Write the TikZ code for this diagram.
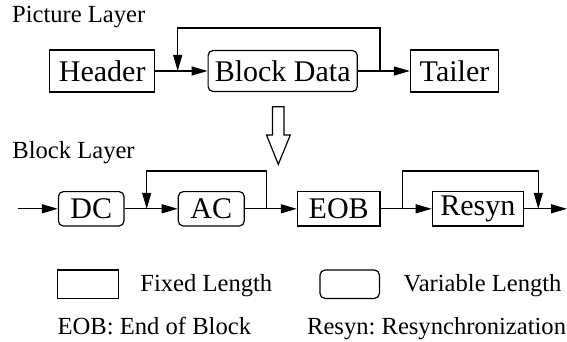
\documentclass[tikz,border=0pt]{standalone}
\usepackage{fontspec}
\setmainfont{Liberation Serif}
\usetikzlibrary{arrows.meta}
\frenchspacing
\tikzset{
  fixedbox/.style={draw, line width=0.6pt, inner sep=0pt, font=\fontsize{15}{18}\selectfont, minimum height=#1},
  fixedbox/.default=21pt,
  varbox/.style={fixedbox=#1, rounded corners=2.5pt},
  varbox/.default=21pt,
  lbl/.style={inner sep=0pt, anchor=base west, font=\fontsize{12.3}{15}\selectfont},
  arr/.style={line width=0.6pt, -{Triangle[length=8pt,width=4.5pt]}},
}
\begin{document}
\begin{tikzpicture}[x=0.5pt,y=-0.5pt]
\useasboundingbox (0,0) rectangle (567,342);
% Picture layer
\node[lbl] (pl) at (11.7,23) {Picture Layer};
\node[fixedbox, minimum width=52.6pt] (header) at (102.2,71) {Header};
\node[varbox, minimum width=74.6pt, minimum height=20.5pt] (bd) at (282.7,71) {Block Data};
\node[fixedbox, minimum width=44pt] (tailer) at (454.5,71) {Tailer};
\coordinate (pa) at (380,71);
\coordinate (pb) at (177.7,71);
\draw[arr] (header.east) -- (bd.west);
\draw[arr] (bd.east) -- (tailer.west);
\draw[arr] (pa) -- ++(0,-43) -| (pb);
% hollow arrow
\draw[line width=0.6pt, fill=white] (272.5,106.7) -- (284,106.7) -- (284,135) -- (290.3,135) -- (278.3,164.3) -- (266.5,135) -- (272.5,135) -- cycle;
% Block layer
\node[lbl] (bl) at (12,158) {Block Layer};
\node[varbox=17.2pt, minimum width=32.8pt] (dc) at (91.2,208.8) {DC};
\node[varbox=17.2pt, minimum width=33pt] (ac) at (211.3,208.8) {AC};
\node[fixedbox=17.2pt, minimum width=41.3pt] (eob) at (338.7,208.8) {EOB};
\node[fixedbox=17.2pt, minimum width=45.5pt] (resyn) at (477.8,208.8) {Resyn};
\coordinate (in) at (18,208.8);
\coordinate (out) at (567,208.8);
\coordinate (fa) at (266.7,208.8);
\coordinate (fb) at (146.7,208.8);
\coordinate (sa) at (402.7,208.8);
\coordinate (sb) at (538.3,208.8);
\draw[arr] (in) -- (dc.west);
\draw[arr] (dc.east) -- (ac.west);
\draw[arr] (ac.east) -- (eob.west);
\draw[arr] (eob.east) -- (resyn.west);
\draw[arr] (resyn.east) -- (out);
\draw[arr] (fa) -- ++(0,-37.8) -| (fb);
\draw[arr] (sa) -- ++(0,-37.8) -| (sb);
% legend
\node[fixedbox=14.2pt, minimum width=30.5pt] (lf) at (87.8,284.2) {};
\node[lbl] (lft) at (140,291.7) {Fixed Length};
\node[varbox=14.2pt, minimum width=29.7pt] (lv) at (349.7,284.2) {};
\node[lbl] (lvt) at (403.3,291.7) {Variable Length};
\node[lbl] (eobt) at (57.3,334) {EOB: End of Block};
\node[lbl] (rest) at (306.7,334) {Resyn: Resynchronization};
\end{tikzpicture}
\end{document}
